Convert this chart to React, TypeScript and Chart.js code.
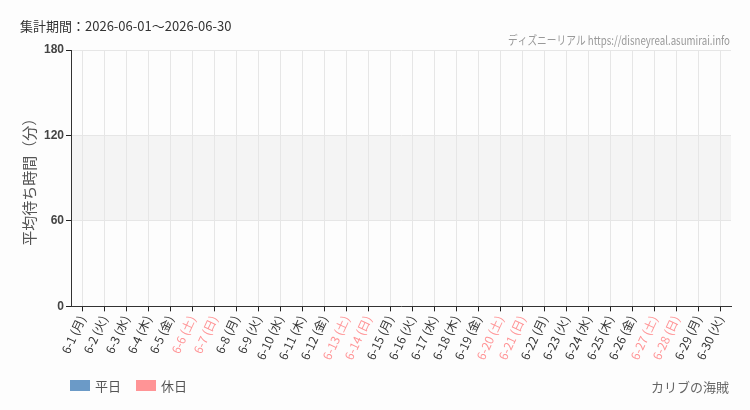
import { useEffect, useRef } from "react";
import { Chart, registerables } from "chart.js";

Chart.register(...registerables);

const PERIOD_TEXT = "集計期間：2026-06-01～2026-06-30";
const CREDIT_TEXT = "ディズニーリアル https://disneyreal.asumirai.info";
const ATTRACTION = "カリブの海賊";

const days = [
  "6-1 (月)", "6-2 (火)", "6-3 (水)", "6-4 (木)", "6-5 (金)", "6-6 (土)", "6-7 (日)",
  "6-8 (月)", "6-9 (火)", "6-10 (水)", "6-11 (木)", "6-12 (金)", "6-13 (土)", "6-14 (日)",
  "6-15 (月)", "6-16 (火)", "6-17 (水)", "6-18 (木)", "6-19 (金)", "6-20 (土)", "6-21 (日)",
  "6-22 (月)", "6-23 (火)", "6-24 (水)", "6-25 (木)", "6-26 (金)", "6-27 (土)", "6-28 (日)",
  "6-29 (月)", "6-30 (火)"
];
const holidayFlags = [
  false, false, false, false, false, true, true,
  false, false, false, false, false, true, true,
  false, false, false, false, false, true, true,
  false, false, false, false, false, true, true,
  false, false
];
// no data recorded for this period
const weekdayWaits: (number | null)[] = [
  null, null, null, null, null, null, null, null, null, null,
  null, null, null, null, null, null, null, null, null, null,
  null, null, null, null, null, null, null, null, null, null
];
const holidayWaits: (number | null)[] = [
  null, null, null, null, null, null, null, null, null, null,
  null, null, null, null, null, null, null, null, null, null,
  null, null, null, null, null, null, null, null, null, null
];
const yTicks = [0, 60, 120, 180];

const WEEKDAY_COLOR = "#6b9ac7";
const HOLIDAY_COLOR = "#ff9496";
const JP = '"Noto Sans CJK JP", "Noto Sans", sans-serif';

const decorPlugin = {
  id: "decor",
  beforeDraw(chart: any) {
    const { ctx, chartArea, scales } = chart;
    const y = scales.y;
    ctx.save();
    ctx.fillStyle = "#fdfdfd";
    ctx.fillRect(0, 0, chart.width, chart.height);
    ctx.fillStyle = "#f4f4f4";
    const top = y.getPixelForValue(120);
    const bottom = y.getPixelForValue(60);
    ctx.fillRect(chartArea.left, top, chartArea.right - chartArea.left, bottom - top);
    ctx.restore();
  },
  afterDraw(chart: any) {
    const { ctx } = chart;
    ctx.save();
    ctx.textBaseline = "middle";

    ctx.font = `13px ${JP}`;
    ctx.fillStyle = "#333";
    ctx.textAlign = "left";
    ctx.fillText(PERIOD_TEXT, 20, 26);

    // narrow credit line, squeezed to fit
    ctx.font = `12px ${JP}`;
    ctx.fillStyle = "#999";
    const w = ctx.measureText(CREDIT_TEXT).width;
    const target = 222;
    ctx.save();
    ctx.translate(730, 40);
    ctx.scale(target / w, 1);
    ctx.textAlign = "right";
    ctx.fillText(CREDIT_TEXT, 0, 0);
    ctx.restore();

    ctx.font = `13px ${JP}`;
    ctx.fillStyle = "#666";
    ctx.textAlign = "right";
    ctx.fillText(ATTRACTION, 729, 387);

    // legend
    ctx.textAlign = "left";
    let x = 70;
    chart.data.datasets.forEach((ds: any) => {
      ctx.fillStyle = ds.backgroundColor;
      ctx.fillRect(x, 380, 20, 11);
      ctx.fillStyle = "#555";
      ctx.font = `13px ${JP}`;
      ctx.fillText(ds.label, x + 25, 386);
      x += 25 + ctx.measureText(ds.label).width + 15;
    });
    ctx.restore();
  }
};

export default function App() {
  const canvasRef = useRef<HTMLCanvasElement | null>(null);

  useEffect(() => {
    document.body.style.margin = "0";
    if (!canvasRef.current) return;

    const chart = new Chart(canvasRef.current, {
      type: "bar",
      data: {
        labels: days,
        datasets: [
          { label: "平日", data: weekdayWaits, backgroundColor: WEEKDAY_COLOR },
          { label: "休日", data: holidayWaits, backgroundColor: HOLIDAY_COLOR }
        ]
      },
      options: {
        responsive: false,
        animation: false,
        layout: { padding: { top: 50, left: 20, right: 19, bottom: 46 } },
        plugins: {
          legend: { display: false },
          tooltip: { enabled: false }
        },
        scales: {
          x: {
            grid: {
              color: "#e6e6e6",
              offset: false,
              tickColor: "#222",
              tickLength: 5
            },
            border: { color: "#333", width: 1 },
            ticks: {
              autoSkip: false,
              minRotation: 65,
              maxRotation: 65,
              padding: 2,
              font: { family: JP, size: 12 },
              color: (c: any) => (holidayFlags[c.index] ? HOLIDAY_COLOR : "#333")
            }
          },
          y: {
            min: 0,
            max: 180,
            afterBuildTicks: (axis: any) => {
              axis.ticks = yTicks.map((v) => ({ value: v }));
            },
            grid: {
              color: "#e6e6e6",
              tickColor: "#222",
              tickLength: 5
            },
            border: { color: "#333", width: 1 },
            ticks: {
              padding: 2,
              font: { family: '"Liberation Sans", Arial, sans-serif', size: 12, weight: "bold" },
              color: "#444"
            },
            title: {
              display: true,
              text: "平均待ち時間（分）",
              color: "#555",
              font: { family: JP, size: 15 },
              padding: { top: 0, bottom: 4 }
            }
          }
        }
      },
      plugins: [decorPlugin]
    });

    return () => chart.destroy();
  }, []);

  return (
    <div style={{ width: 750, height: 410 }}>
      <canvas ref={canvasRef} width={750} height={410} />
    </div>
  );
}
